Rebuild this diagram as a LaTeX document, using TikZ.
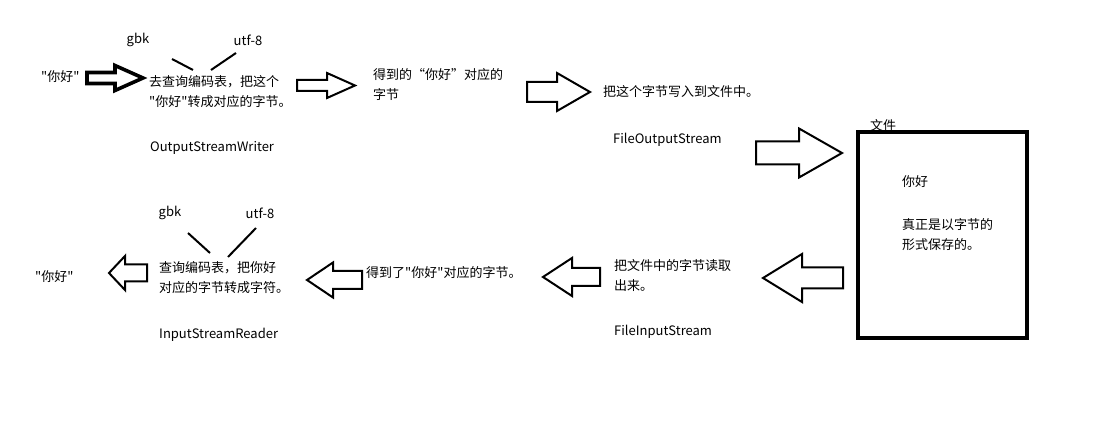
\documentclass[tikz,border=0pt]{standalone}
\usepackage{fontspec}
\setmainfont{Noto Sans CJK SC}[Ligatures=TeXOff]
\begin{document}
\begin{tikzpicture}[x=1pt,y=-1pt,
  txt/.style={anchor=west,inner sep=0pt,font=\fontsize{13}{20}\selectfont,align=left},
  lbl/.style={inner sep=0pt,font=\fontsize{13}{20}\selectfont},
  blk/.style={draw=black,line width=2pt,line join=miter},
  thick blk/.style={draw=black,line width=3.6pt,line join=miter},
  tick/.style={draw=black,line width=2pt}]
\useasboundingbox (0,0) rectangle (1096,446);
\fill[white] (0,0) rectangle (1096,446);
% right block arrow: x1,xh,x2,y,body half,head half
\newcommand\rblk[7]{\draw[#7] (#1,#4-#5)--(#2,#4-#5)--(#2,#4-#6)--(#3,#4)--(#2,#4+#6)--(#2,#4+#5)--(#1,#4+#5)--cycle;}
% left block arrow: tip x2, head base xh, right x1
\newcommand\lblk[7]{\draw[#7] (#1,#4-#5)--(#2,#4-#5)--(#2,#4-#6)--(#3,#4)--(#2,#4+#6)--(#2,#4+#5)--(#1,#4+#5)--cycle;}
%% top row
\node[txt] (src) at (41,77) {"你好"};
\rblk{87}{115}{143}{78}{5.5}{12.5}{thick blk}
\node[lbl] (gbk1) at (138,40) {gbk};
\node[lbl] (utf1) at (248,40) {utf-8};
\coordinate (g1a) at (172,59); \coordinate (g1b) at (193,70);
\coordinate (u1a) at (236,53); \coordinate (u1b) at (211,70);
\draw[tick] (g1a)--(g1b);
\draw[tick] (u1a)--(u1b);
\node[txt] (enc) at (149,92) {去查询编码表，把这个\\"你好"转成对应的字节。};
\node[txt] (osw) at (150,148) {OutputStreamWriter};
\rblk{297}{327}{355}{85.5}{5.5}{12.5}{blk}
\node[txt] (bytes) at (373,85) {得到的“你好”对应的\\字节};
\rblk{527}{557}{590}{92}{10}{19}{blk}
\node[txt] (write) at (603,92) {把这个字节写入到文件中。};
\node[txt] (fos) at (613,140) {FileOutputStream};
\rblk{756}{799}{842}{153}{11.5}{24.5}{blk}
%% file box
\draw[black,line width=4pt] (858,132) rectangle (1027,338);
\node[lbl] (file) at (883,126) {文件};
\node[txt] (nh) at (902,182) {你好};
\node[txt] (save) at (902,235) {真正是以字节的\\形式保存的。};
%% bottom row
\lblk{843}{802}{763}{278}{10.5}{24}{blk}
\node[txt] (read) at (614,276) {把文件中的字节读取\\出来。};
\node[txt] (fis) at (614,332) {FileInputStream};
\lblk{600}{572}{543}{277}{9}{19}{blk}
\node[txt] (got) at (366,273) {得到了"你好"对应的字节。};
\lblk{362}{333}{307}{280}{9}{17.5}{blk}
\node[lbl] (gbk2) at (170,213) {gbk};
\node[lbl] (utf2) at (260,213) {utf-8};
\coordinate (g2a) at (188,233); \coordinate (g2b) at (210,253);
\coordinate (u2a) at (256,228); \coordinate (u2b) at (228,257);
\draw[tick] (g2a)--(g2b);
\draw[tick] (u2a)--(u2b);
\node[txt] (dec) at (159,278) {查询编码表，把你好\\对应的字节转成字符。};
\node[txt] (isr) at (159,335) {InputStreamReader};
\lblk{147}{125}{109}{273}{8.5}{17}{blk}
\node[txt] (dst) at (35,277) {"你好"};
\end{tikzpicture}
\end{document}
